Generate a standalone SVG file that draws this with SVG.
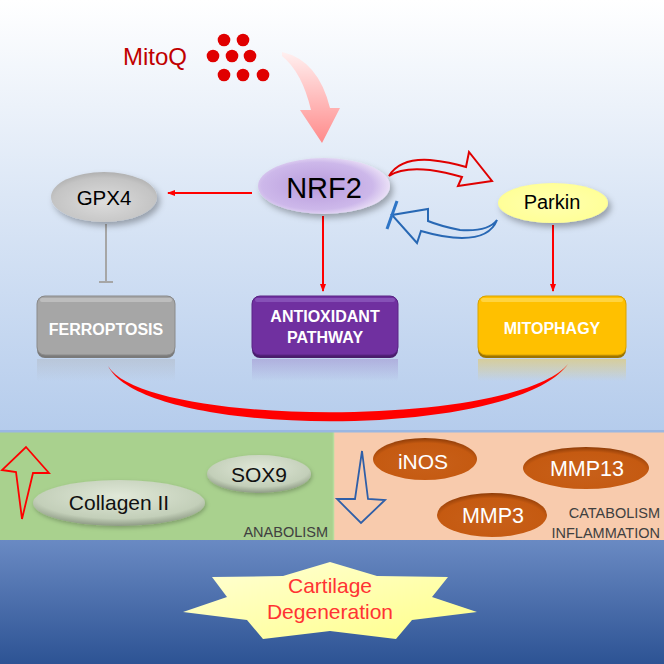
<svg xmlns="http://www.w3.org/2000/svg" width="664" height="664" viewBox="0 0 664 664">
<defs>
<linearGradient id="bgTop" x1="0" y1="0" x2="0" y2="1"><stop offset="0" stop-color="#ffffff"/><stop offset="0.45" stop-color="#dce7f6"/><stop offset="1" stop-color="#b5ccec"/></linearGradient>
<linearGradient id="bgBot" x1="0" y1="0" x2="0" y2="1"><stop offset="0" stop-color="#6a8ac3"/><stop offset="1" stop-color="#2d5394"/></linearGradient>
<linearGradient id="pinkArrow" x1="0" y1="0" x2="0" y2="1"><stop offset="0" stop-color="#fff0f0"/><stop offset="1" stop-color="#ff8a8a"/></linearGradient>
<radialGradient id="gNrf" cx="0.45" cy="0.5" r="0.6"><stop offset="0" stop-color="#b89bdc"/><stop offset="0.7" stop-color="#cdb8ea"/><stop offset="1" stop-color="#f6f0fc"/></radialGradient>
<radialGradient id="gGpx" cx="0.5" cy="0.6" r="0.6"><stop offset="0" stop-color="#dcdcdc"/><stop offset="0.8" stop-color="#c4c4c4"/><stop offset="1" stop-color="#b0b0b0"/></radialGradient>
<radialGradient id="gPark" cx="0.5" cy="0.5" r="0.6"><stop offset="0" stop-color="#ffffb0"/><stop offset="0.8" stop-color="#ffff99"/><stop offset="1" stop-color="#eded80"/></radialGradient>
<radialGradient id="gGreen" cx="0.5" cy="0.35" r="0.65"><stop offset="0" stop-color="#e0e8d8"/><stop offset="0.75" stop-color="#c3cfb9"/><stop offset="1" stop-color="#8d9a84"/></radialGradient>
<radialGradient id="gBrown" cx="0.5" cy="0.6" r="0.6"><stop offset="0" stop-color="#c8601a"/><stop offset="0.8" stop-color="#c55a11"/><stop offset="1" stop-color="#8e3c08"/></radialGradient>
<linearGradient id="gStar" x1="0" y1="0" x2="1" y2="1"><stop offset="0" stop-color="#ffffd8"/><stop offset="1" stop-color="#ffff88"/></linearGradient>
<linearGradient id="reflGray" x1="0" y1="0" x2="0" y2="1"><stop offset="0" stop-color="#a6a6a6" stop-opacity="0.3"/><stop offset="1" stop-color="#a6a6a6" stop-opacity="0"/></linearGradient>
<linearGradient id="reflPurple" x1="0" y1="0" x2="0" y2="1"><stop offset="0" stop-color="#7030a0" stop-opacity="0.22"/><stop offset="1" stop-color="#7030a0" stop-opacity="0"/></linearGradient>
<linearGradient id="reflGold" x1="0" y1="0" x2="0" y2="1"><stop offset="0" stop-color="#ffc000" stop-opacity="0.35"/><stop offset="1" stop-color="#ffc000" stop-opacity="0"/></linearGradient>
<filter id="shadow" x="-20%" y="-20%" width="150%" height="160%"><feDropShadow dx="3" dy="4" stdDeviation="3" flood-color="#000" flood-opacity="0.3"/></filter>
<filter id="shadow2" x="-20%" y="-20%" width="150%" height="160%"><feDropShadow dx="1" dy="2" stdDeviation="2" flood-color="#000" flood-opacity="0.25"/></filter>
<marker id="ah" markerWidth="8" markerHeight="8" refX="7" refY="4" orient="auto" markerUnits="userSpaceOnUse"><path d="M0,1 L8,4 L0,7 Z" fill="#ff0000"/></marker>
<style>
.lbl{font-family:"Liberation Sans",Arial,sans-serif;}
.box{font-family:"Liberation Sans",Arial,sans-serif;font-weight:bold;fill:#ffffff;font-size:16px;text-anchor:middle;}
.red{stroke:#ff0000;stroke-width:2;fill:none;}
.small{font-family:"Liberation Sans",Arial,sans-serif;font-size:14.5px;fill:#404040;}
</style>
</defs>

<!-- backgrounds -->
<rect x="0" y="0" width="664" height="432" fill="url(#bgTop)"/>
<rect x="0" y="432" width="333" height="108" fill="#a9d18e"/>
<rect x="333" y="432" width="331" height="108" fill="#f8cbad"/>
<line x1="333.5" y1="432" x2="333.5" y2="540" stroke="#b6dc9c" stroke-width="1.5"/>
<rect x="0" y="430" width="664" height="2.5" fill="#9ab7e2"/>
<rect x="0" y="540" width="664" height="124" fill="url(#bgBot)"/>

<!-- MitoQ -->
<g id="mitoq">
<text class="lbl" x="123" y="65" font-size="24" fill="#c00000">MitoQ</text>
<g fill="#e00000">
<circle cx="224" cy="40" r="6.3"/><circle cx="243" cy="40" r="6.3"/>
<circle cx="213" cy="56" r="6.3"/><circle cx="232" cy="56" r="6.3"/><circle cx="250" cy="56" r="6.3"/>
<circle cx="224" cy="75" r="6.3"/><circle cx="243" cy="75" r="6.3"/><circle cx="263" cy="75" r="6.3"/>
</g>
</g>

<!-- connectors -->
<g id="connectors">
<path d="M282,52 Q318,60 330,108 L340,108 L322,143 L300,110 L311,110 Q302,72 282,56 Z" fill="url(#pinkArrow)"/>
<line class="red" x1="252" y1="193" x2="168" y2="193" marker-end="url(#ah)"/>
<line class="red" x1="323" y1="216" x2="323" y2="291" marker-end="url(#ah)"/>
<line class="red" x1="553" y1="225" x2="553" y2="291" marker-end="url(#ah)"/>
<line x1="106" y1="224" x2="106" y2="281" stroke="#a6a6a6" stroke-width="2"/>
<line x1="99" y1="282" x2="113" y2="282" stroke="#a6a6a6" stroke-width="2"/>
<path d="M389,176 Q400,158 430,160 Q450,162 466,167 L469,152 L492,181 L458,186 L462,177 Q445,172 430,170 Q402,167 389,176 Z" fill="none" stroke="#e00000" stroke-width="2" stroke-linejoin="miter"/>
<path d="M497,220 Q488,232 460,230 Q440,226 428,221 L428,209 L392,215 L417,243 L421,231 Q445,238 462,238 Q490,238 497,220 Z" fill="none" stroke="#2868b4" stroke-width="2"/>
<line x1="397" y1="201" x2="387" y2="229" stroke="#2e75c6" stroke-width="3"/>
<path d="M108,366 C145,440 515,440 568,364 C515,428 145,428 108,366 Z" fill="#ff0000"/>
</g>

<!-- nodes -->
<g id="nrf2">
<ellipse cx="324" cy="186" rx="66" ry="28" fill="url(#gNrf)" filter="url(#shadow)"/>
<text class="lbl" x="324" y="198" font-size="29" text-anchor="middle" fill="#000">NRF2</text>
</g>
<g id="gpx4">
<ellipse cx="104" cy="197" rx="53" ry="25" fill="url(#gGpx)" filter="url(#shadow)"/>
<text class="lbl" x="104" y="205" font-size="20.5" text-anchor="middle" fill="#000">GPX4</text>
</g>
<g id="parkin">
<ellipse cx="553" cy="203" rx="55" ry="20" fill="url(#gPark)" filter="url(#shadow)"/>
<text class="lbl" x="552" y="209" font-size="20" text-anchor="middle" fill="#000">Parkin</text>
</g>

<g id="ferroptosis">
<rect x="37" y="359" width="138" height="22" fill="url(#reflGray)"/>
<rect x="37" y="296" width="138" height="62" rx="8" fill="#7a7a7a"/>
<rect x="37" y="296" width="138" height="59" rx="8" fill="#a6a6a6" stroke="#8a8a8a" stroke-width="1"/>
<rect x="40" y="298" width="132" height="4" rx="2" fill="#c8c8c8" opacity="0.7"/>
<text class="box" x="106" y="335">FERROPTOSIS</text>
</g>
<g id="antioxidant">
<rect x="252" y="359" width="146" height="22" fill="url(#reflPurple)"/>
<rect x="252" y="296" width="146" height="62" rx="8" fill="#4a1d6c"/>
<rect x="252" y="296" width="146" height="59" rx="8" fill="#7030a0" stroke="#5a2585" stroke-width="1"/>
<rect x="255" y="298" width="140" height="4" rx="2" fill="#9060c0" opacity="0.7"/>
<text class="box" x="325" y="322">ANTIOXIDANT</text>
<text class="box" x="325" y="343">PATHWAY</text>
</g>
<g id="mitophagy">
<rect x="478" y="359" width="148" height="22" fill="url(#reflGold)"/>
<rect x="478" y="296" width="148" height="62" rx="8" fill="#9c7400"/>
<rect x="478" y="296" width="148" height="59" rx="8" fill="#ffc000" stroke="#d9a300" stroke-width="1"/>
<rect x="481" y="298" width="142" height="4" rx="2" fill="#ffd850" opacity="0.8"/>
<text class="box" x="552" y="334">MITOPHAGY</text>
</g>

<!-- anabolism band -->
<g id="upArrow">
<path d="M26,447 L49,473 L33,473 L22,519 L16,472 L2,470 Z" fill="none" stroke="#ff0000" stroke-width="1.8"/>
</g>
<g id="collagen">
<ellipse cx="119" cy="503" rx="86" ry="23" fill="url(#gGreen)" filter="url(#shadow2)"/>
<text class="lbl" x="119" y="510" font-size="21" text-anchor="middle" fill="#111">Collagen  II</text>
</g>
<g id="sox9">
<ellipse cx="259" cy="474" rx="52" ry="19" fill="url(#gGreen)" filter="url(#shadow2)"/>
<text class="lbl" x="259" y="482" font-size="21" text-anchor="middle" fill="#111">SOX9</text>
</g>
<text class="small" x="328" y="537" text-anchor="end">ANABOLISM</text>

<!-- catabolism band -->
<g id="downArrow">
<path d="M362,451 L368,499 L385,500 L361,523 L337,499 L355,499 Z" fill="none" stroke="#2f5fa8" stroke-width="1.8"/>
</g>
<g id="inos">
<ellipse cx="425" cy="459" rx="52" ry="21" fill="url(#gBrown)"/>
<text class="lbl" x="423" y="469" font-size="21" text-anchor="middle" fill="#ffffff">iNOS</text>
</g>
<g id="mmp13">
<ellipse cx="586" cy="468" rx="63" ry="21" fill="url(#gBrown)"/>
<text class="lbl" x="587" y="476" font-size="21.5" text-anchor="middle" fill="#ffffff">MMP13</text>
</g>
<g id="mmp3">
<ellipse cx="492" cy="515" rx="55" ry="22" fill="url(#gBrown)"/>
<text class="lbl" x="493" y="523" font-size="21.5" text-anchor="middle" fill="#ffffff">MMP3</text>
</g>
<text class="small" x="660" y="518" text-anchor="end">CATABOLISM</text>
<text class="small" x="660" y="538" text-anchor="end">INFLAMMATION</text>

<!-- bottom -->
<g id="cartilage">
<polygon points="330,562 377,576 448,577 432,597 477,612 412,620 396,639 330,631 263,639 247,620 183,612 227,597 212,577 283,576" fill="url(#gStar)"/>
<text class="lbl" x="330" y="593" font-size="21" text-anchor="middle" fill="#ff3333">Cartilage</text>
<text class="lbl" x="330" y="619" font-size="21" text-anchor="middle" fill="#ff3333">Degeneration</text>
</g>
</svg>
